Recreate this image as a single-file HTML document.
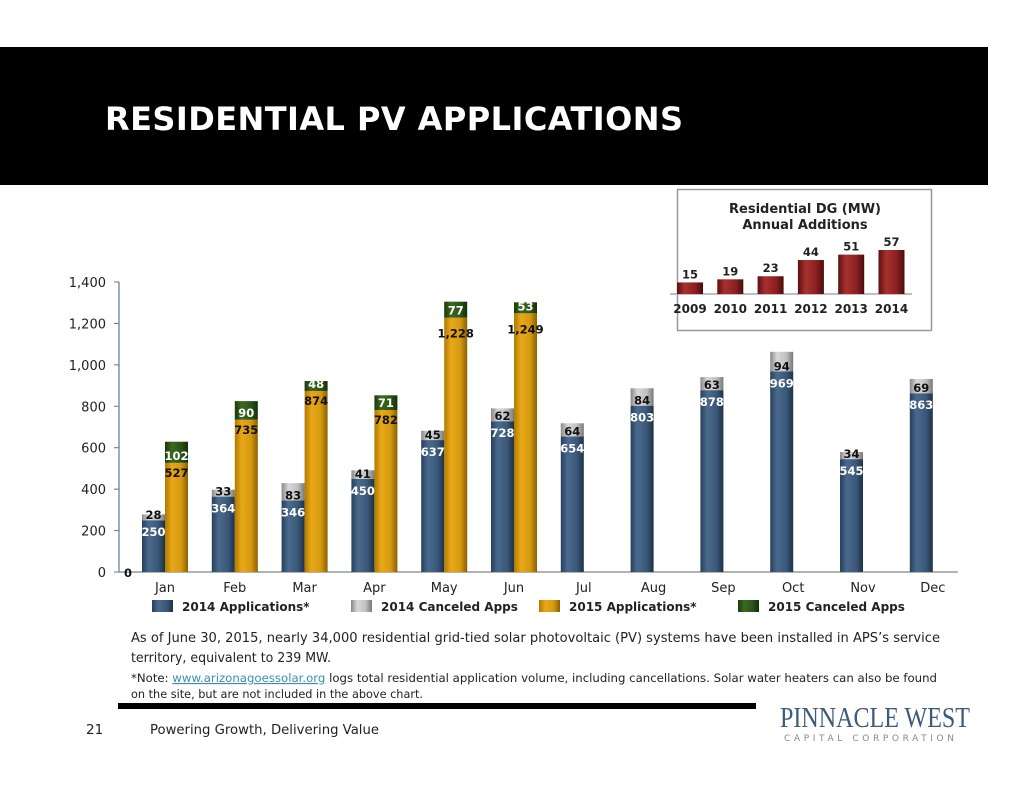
<!DOCTYPE html>
<html><head><meta charset="utf-8"><style>
body{margin:0;background:#fff;width:1034px;height:799px;overflow:hidden;font-family:"DejaVu Sans","Liberation Sans",sans-serif;}
svg{position:absolute;left:0;top:0}
</style></head><body>
<svg width="1034" height="799" xmlns="http://www.w3.org/2000/svg" font-family="DejaVu Sans, Liberation Sans, sans-serif">
<defs>
<linearGradient id="gB" x1="0" x2="1"><stop offset="0" stop-color="#27405c"/><stop offset="0.3" stop-color="#4a6a8e"/><stop offset="0.7" stop-color="#3a5878"/><stop offset="1" stop-color="#1e3048"/></linearGradient>
<linearGradient id="gG" x1="0" x2="1"><stop offset="0" stop-color="#b07a00"/><stop offset="0.3" stop-color="#e8a818"/><stop offset="0.7" stop-color="#d69a10"/><stop offset="1" stop-color="#8a6000"/></linearGradient>
<linearGradient id="gS" x1="0" x2="1"><stop offset="0" stop-color="#888"/><stop offset="0.3" stop-color="#d8d8d8"/><stop offset="0.7" stop-color="#c0c0c0"/><stop offset="1" stop-color="#777"/></linearGradient>
<linearGradient id="gD" x1="0" x2="1"><stop offset="0" stop-color="#1a3a0a"/><stop offset="0.3" stop-color="#3a6a20"/><stop offset="0.7" stop-color="#2c5418"/><stop offset="1" stop-color="#163008"/></linearGradient>
<linearGradient id="gR" x1="0" x2="1"><stop offset="0" stop-color="#5a1010"/><stop offset="0.3" stop-color="#a83030"/><stop offset="0.7" stop-color="#8c2020"/><stop offset="1" stop-color="#4a0c0c"/></linearGradient>
</defs>
<rect x="0" y="47" width="988" height="138" fill="#000"/>
<text x="105" y="130" fill="#fff" font-size="32" font-weight="bold" textLength="578">RESIDENTIAL PV APPLICATIONS</text>
<g id="main"></g>
<g id="inset"></g>
<text font-size="13.5" fill="#222"><tspan x="131" y="642" textLength="809" lengthAdjust="spacingAndGlyphs">As of June 30, 2015, nearly 34,000 residential grid-tied solar photovoltaic (PV) systems have been installed in APS’s service</tspan><tspan x="131" y="662" textLength="200" lengthAdjust="spacingAndGlyphs">territory, equivalent to 239 MW.</tspan></text>
<text font-size="11.5" fill="#222"><tspan x="131" y="682" textLength="806" lengthAdjust="spacingAndGlyphs">*Note:  <tspan fill="#3a8fb0" text-decoration="underline">www.arizonagoessolar.org</tspan> logs total residential application volume, including cancellations. Solar water heaters can also be found</tspan><tspan x="131" y="698" textLength="292" lengthAdjust="spacingAndGlyphs">on the site, but are not included in the above chart.</tspan></text>
<rect x="118" y="703" width="638" height="6" fill="#000"/>
<text x="86" y="734" font-size="13.5" fill="#222">21</text>
<text x="150" y="734" font-size="13.5" fill="#222" textLength="229" lengthAdjust="spacingAndGlyphs">Powering Growth, Delivering Value</text>
<text x="780" y="727" font-family="Liberation Serif, serif" font-size="29" fill="#3c5a7c" textLength="190" lengthAdjust="spacingAndGlyphs">PINNACLE WEST</text>
<text x="784" y="741" font-size="9" fill="#888" textLength="170">CAPITAL CORPORATION</text>
</svg>
<script>
const months=["Jan","Feb","Mar","Apr","May","Jun","Jul","Aug","Sep","Oct","Nov","Dec"];
const apps2014=[250,364,346,450,637,728,654,803,878,969,545,863];
const canc2014=[28,33,83,41,45,62,64,84,63,94,34,69];
const apps2015=[527,735,874,782,1228,1249];
const canc2015=[102,90,48,71,77,53];
const yTicks=[0,200,400,600,800,1000,1200,1400];
const insetYears=["2009","2010","2011","2012","2013","2014"];
const insetMW=[15,19,23,44,51,57];
const NS="http://www.w3.org/2000/svg";
function mk(p,t,a,txt){const e=document.createElementNS(NS,t);for(const k in a)e.setAttribute(k,a[k]);if(txt!==undefined)e.textContent=txt;p.appendChild(e);return e;}
const fmt=v=>v.toLocaleString("en-US");
const main=document.getElementById("main");
const y=v=>572-v*(290/1400);
const xc=i=>165+i*69.8;
const BW=23;
let ax=mk(main,"line",{x1:119,y1:282,x2:119,y2:572,stroke:"#5a7898","stroke-width":1.2});


let bx=mk(main,"line",{x1:119,y1:572,x2:958,y2:572,stroke:"#999","stroke-width":1.5});


yTicks.forEach(t=>{
  mk(main,"line",{x1:114,y1:y(t),x2:119,y2:y(t),stroke:"#5a7898"});
  const l=mk(main,"text",{x:106,y:y(t)+5,"text-anchor":"end","font-size":13,fill:"#222"},fmt(t));
  
  
});
function bar(x,y0,y1,fill,name){const r=mk(main,"rect",{x:x,y:y1,width:BW,height:Math.max(0,y0-y1),fill:fill});

return r;}
function lab(x,yy,txt,col){const t=mk(main,"text",{x:x,y:yy,"text-anchor":"middle","font-size":11.5,"font-weight":"bold",fill:col},txt);

}
months.forEach((m,i)=>{
  const c=xc(i);
  const a=apps2014[i],k=canc2014[i];
  bar(c-BW,y(0),y(a),"url(#gB)","bar-2014-apps-"+m.toLowerCase());
  bar(c-BW,y(a),y(a+k),"url(#gS)","bar-2014-canceled-"+m.toLowerCase());
  lab(c-BW/2,y(a)+16,fmt(a),"#fff");
  lab(c-BW/2,y(a)-1,fmt(k),"#111");
  if(i<apps2015.length){
    const a2=apps2015[i],k2=canc2015[i];
    bar(c,y(0),y(a2),"url(#gG)","bar-2015-apps-"+m.toLowerCase());
    bar(c,y(a2),y(a2+k2),"url(#gD)","bar-2015-canceled-"+m.toLowerCase());
    lab(c+BW/2,y(a2)+(a2>1000?20:14),fmt(a2),"#111");
    lab(c+BW/2,y(a2)-3,fmt(k2),"#fff");
  }
  const ml=mk(main,"text",{x:c,y:592,"text-anchor":"middle","font-size":13,fill:"#222"},m);
  
  
});
lab(128,577,"0","#111");
const leg=[["2014 Applications*","url(#gB)",152],["2014 Canceled Apps","url(#gS)",351],["2015 Applications*","url(#gG)",539],["2015 Canceled Apps","url(#gD)",738]];
leg.forEach(([t,f,x])=>{
  const g=mk(main,"g",{});
  
  
  mk(g,"rect",{x:x,y:600,width:21,height:12,fill:f});
  mk(g,"text",{x:x+30,y:611,"font-size":12,"font-weight":"bold",fill:"#222"},t);
});
const ins=document.getElementById("inset");
mk(ins,"rect",{x:677.5,y:189.5,width:254,height:141,fill:"#fff",stroke:"#999","stroke-width":1.5});
const t1=mk(ins,"text",{x:805,y:213,"text-anchor":"middle","font-size":13,"font-weight":"bold",fill:"#222"},"Residential DG (MW)");


mk(ins,"text",{x:805,y:229,"text-anchor":"middle","font-size":13,"font-weight":"bold",fill:"#222"},"Annual Additions");
const iy=v=>294-v*(44/57);
mk(ins,"line",{x1:670,y1:294,x2:912,y2:294,stroke:"#999","stroke-width":1.2});
insetYears.forEach((yr,i)=>{
  const c=690+i*40.3;
  const r=mk(ins,"rect",{x:c-13,y:iy(insetMW[i]),width:26,height:294-iy(insetMW[i]),fill:"url(#gR)"});
  
  
  mk(ins,"text",{x:c,y:iy(insetMW[i])-4,"text-anchor":"middle","font-size":11.5,"font-weight":"bold",fill:"#222"},insetMW[i]);
  mk(ins,"text",{x:c,y:313,"text-anchor":"middle","font-size":12,"font-weight":"bold",fill:"#222"},yr);
});
</script>
</body></html>
